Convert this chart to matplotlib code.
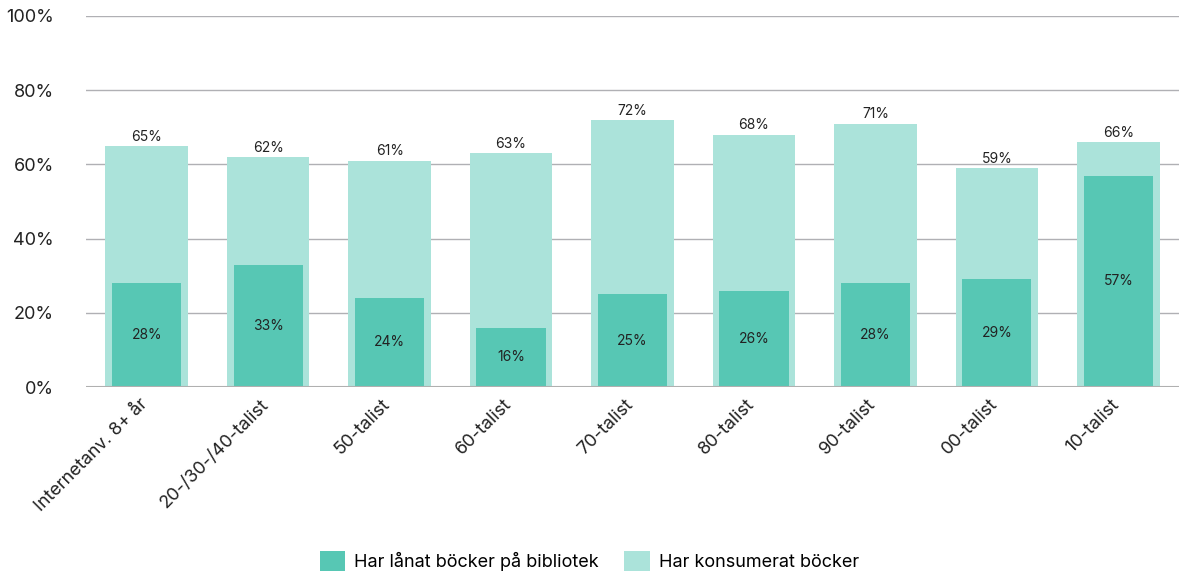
import matplotlib.pyplot as plt
import matplotlib.transforms as mtransforms
import numpy as np

plt.rcParams['font.family'] = ['Inter', 'DejaVu Sans']

categories = ['Internetanv. 8+ år', '20-/30-/40-talist', '50-talist', '60-talist',
              '70-talist', '80-talist', '90-talist', '00-talist', '10-talist']
konsumerat = [65, 62, 61, 63, 72, 68, 71, 59, 66]
lanat = [28, 33, 24, 16, 25, 26, 28, 29, 57]

dark = '#57C7B4'
light = '#ABE3DA'

fig = plt.figure(figsize=(11.79, 5.73), dpi=100)
ax = fig.add_axes([86 / 1179, 1 - 387 / 573, 1093 / 1179, 371 / 573])

x = np.arange(len(categories))
ax.bar(x, konsumerat, width=0.68, color=light, label='Har konsumerat böcker', zorder=2)
ax.bar(x, lanat, width=0.57, color=dark, label='Har lånat böcker på bibliotek', zorder=3)

for xi, v in zip(x, konsumerat):
    ax.text(xi, v + 0.6, f'{v}%', ha='center', va='bottom', fontsize=10, color='#222222')
for xi, v in zip(x, lanat):
    ax.text(xi, v / 2, f'{v}%', ha='center', va='center', fontsize=10, color='#222222', zorder=4)

ax.set_xlim(-0.5, len(categories) - 0.5)
ax.set_ylim(0, 100)
ax.set_yticks(range(0, 101, 20))
ax.set_yticklabels([f'{t}%' for t in range(0, 101, 20)], fontsize=13, color='#222222')
ax.yaxis.grid(True, color='#b0b0b4', linewidth=1, zorder=0)
ax.set_axisbelow(True)
ax.axhline(0, color='#b0b0b0', linewidth=1.5, zorder=4)
for s in ax.spines.values():
    s.set_visible(False)
ax.tick_params(axis='both', length=0)
ax.tick_params(axis='y', pad=23)
ax.set_xticks(x)
ax.set_xticklabels(categories, rotation=45, ha='right', rotation_mode='anchor',
                   fontsize=13, color='#222222')
offset = mtransforms.ScaledTranslation(-8 / 100, -4 / 100, fig.dpi_scale_trans)
for lbl in ax.get_xticklabels():
    lbl.set_transform(lbl.get_transform() + offset)

handles, labels = ax.get_legend_handles_labels()
fig.legend(handles[::-1], labels[::-1], loc='center', bbox_to_anchor=(0.5, 1 - 561 / 573),
           ncol=2, frameon=False, fontsize=13, handlelength=1.4, handleheight=1.4,
           columnspacing=1.4, handletextpad=0.5)

fig.savefig('out.png', dpi=100)
